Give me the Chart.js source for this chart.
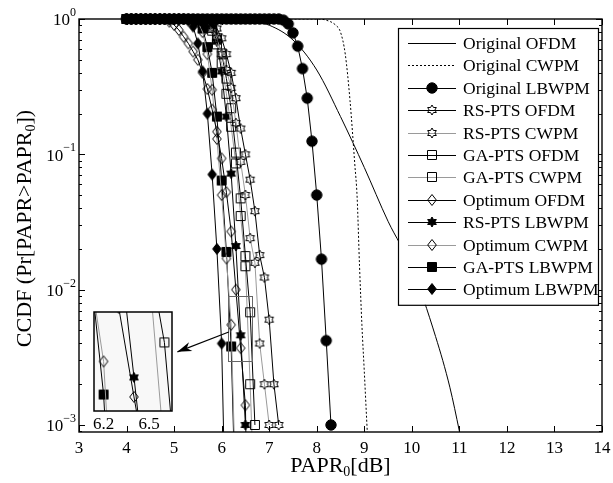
<!DOCTYPE html>
<html>
<head>
<meta charset="utf-8">
<script src="https://cdn.jsdelivr.net/npm/chart.js@4.4.1/dist/chart.umd.min.js"></script>
<style>
  html, body { margin: 0; padding: 0; background: #fff; }
  #wrap { position: relative; width: 613px; height: 483px; }
  #main { position: absolute; left: 0; top: 0; }
  #inset { position: absolute; left: 88px; top: 306px; }
</style>
</head>
<body>
<div id="wrap">
  <canvas id="main" width="613" height="483"></canvas>
  <canvas id="inset" width="96" height="132"></canvas>
</div>
<script>
// PAPR grid of the simulated curves (dB)
const paprGrid = [4.0, 4.1, 4.2, 4.3, 4.4, 4.5, 4.6, 4.7, 4.8, 4.9,
  5.0, 5.1, 5.2, 5.3, 5.4, 5.5, 5.6, 5.7, 5.8, 5.9,
  6.0, 6.1, 6.2, 6.3, 6.4, 6.5, 6.6, 6.7, 6.8, 6.9,
  7.0, 7.1, 7.2, 7.3, 7.4, 7.5, 7.6, 7.7, 7.8, 7.9,
  8.0, 8.1, 8.2, 8.3];

// unmarked reference curves have their own x
const origOfdmX = [4.0, 6.0, 6.5, 7.0, 7.5, 8.0, 8.5, 9.0, 9.5, 10.0, 10.5, 10.8, 11.0, 11.2];
const origOfdmY = [1, 1, 0.985, 0.9, 0.70, 0.42, 0.19, 0.08, 0.032, 0.0145, 0.0045, 0.0019, 0.0009, 0.0004];
const origCwpmX = [4.0, 8.0, 8.2, 8.4, 8.5, 8.6, 8.7, 8.8, 8.85, 8.9, 8.95, 9.0, 9.05, 9.1];
const origCwpmY = [1, 1, 0.98, 0.9, 0.8, 0.55, 0.25, 0.085, 0.048, 0.015, 0.0055, 0.0025, 0.0011, 0.0005];

// marked curves, values on paprGrid starting at 4.0 dB
const origLbwpm = [1, 1, 1, 1, 1, 1, 1, 1, 1, 1, 1, 1, 1, 1, 1, 1, 1, 1, 1, 1,
  1, 1, 1, 1, 1, 1, 1, 1, 1, 1, 1, 1, 1, 0.98, 0.92, 0.79, 0.63, 0.43, 0.26, 0.125,
  0.05, 0.0168, 0.0042, 0.001];
const rsOfdm = [1, 1, 1, 1, 1, 1, 1, 1, 1, 1, 1, 1, 1, 1, 1, 1,
  0.99, 0.97, 0.93, 0.85, 0.72, 0.55, 0.40, 0.26, 0.155, 0.10, 0.065, 0.038, 0.018, 0.0123,
  0.006, 0.002, 0.001];
const rsCwpm = [1, 1, 1, 1, 1, 1, 1, 1, 1, 1, 1, 1, 1, 1, 1,
  0.99, 0.97, 0.93, 0.85, 0.72, 0.55, 0.42, 0.31, 0.17, 0.088, 0.05, 0.024, 0.0158, 0.004, 0.002,
  0.001];
const gaOfdm = [1, 1, 1, 1, 1, 1, 1, 1, 1, 1, 1, 1, 1, 1, 1, 1,
  0.99, 0.95, 0.86, 0.72, 0.557, 0.363, 0.219, 0.103, 0.0473, 0.0177, 0.0068, 0.001];
const gaCwpm = [1, 1, 1, 1, 1, 1, 1, 1, 1, 1, 1, 1, 1, 1, 1, 1,
  0.98, 0.93, 0.82, 0.65, 0.47, 0.28, 0.16, 0.0857, 0.035, 0.0149, 0.002, 0.0002];
const optOfdm = [1, 1, 1, 1, 1, 1, 1, 1, 1,
  0.955, 0.904, 0.83, 0.74, 0.66, 0.575, 0.50, 0.40, 0.304, 0.214, 0.147,
  0.0933, 0.0525, 0.0269, 0.01, 0.0037, 0.0014, 0.00001];
const rsLbwpm = [1, 1, 1, 1, 1, 1, 1, 1, 1, 1, 1, 1, 1, 1, 1, 1, 1,
  0.97, 0.88, 0.68, 0.41, 0.19, 0.072, 0.021, 0.0046, 0.001];
const optCwpm = [1, 1, 1, 1, 1, 1, 1, 1, 1, 1, 1, 1, 1, 1,
  0.99, 0.95, 0.8, 0.55, 0.3, 0.13, 0.05, 0.017, 0.0055, 0.0003];
const gaLbwpm = [1, 1, 1, 1, 1, 1, 1, 1, 1, 1, 1, 1, 1, 1, 1,
  0.97, 0.85, 0.62, 0.40, 0.19, 0.064, 0.019, 0.0038, 0.0002];
const optLbwpm = [1, 1, 1, 1, 1, 1, 1, 1, 1, 1, 1, 1, 1,
  0.97, 0.88, 0.66, 0.41, 0.2, 0.071, 0.02, 0.004, 0.0001];

const xTicks = [3, 4, 5, 6, 7, 8, 9, 10, 11, 12, 13, 14];
const yDecades = [0, -1, -2, -3];
const insetTicks = [6.2, 6.5];
// zoom window marked in the plot, range of the inset, and the arrow between them
const zoomBoxX = [6.137, 6.65];
const zoomBoxY = [0.002985, 0.008974];
const insetX = [6.137, 6.65];
const insetY = [0.003162, 0.00955];
const arrowFrom = [6.15, 0.00486];
const arrowTo = [5.07, 0.00347];

const SERIF = '"Liberation Serif", "DejaVu Serif", serif';
const GRAY = '#9a9a9a';

function makeMarker(kind, filled) {
  const c = document.createElement('canvas');
  c.width = 14; c.height = 14;
  const g = c.getContext('2d');
  const m = 7;
  g.lineWidth = 1;
  g.strokeStyle = '#000';
  g.fillStyle = '#000';
  g.beginPath();
  if (kind === 'circle') {
    g.arc(m, m, 5.2, 0, Math.PI * 2);
  } else if (kind === 'square') {
    g.rect(m - 4.5, m - 4.5, 9, 9);
  } else if (kind === 'diamond') {
    g.moveTo(m, m - 5.5); g.lineTo(m + 4.3, m); g.lineTo(m, m + 5.5); g.lineTo(m - 4.3, m);
    g.closePath();
  } else if (kind === 'hexagram') {
    for (let i = 0; i < 12; i++) {
      const a = (-90 + i * 30) * Math.PI / 180;
      const r = i % 2 ? 2.9 : 5;
      const px = m + r * Math.cos(a), py = m + r * Math.sin(a);
      if (i === 0) g.moveTo(px, py); else g.lineTo(px, py);
    }
    g.closePath();
  }
  if (filled) g.fill();
  g.stroke();
  return c;
}

const mk = {
  circle: makeMarker('circle', true),
  star: makeMarker('hexagram', false),
  starF: makeMarker('hexagram', true),
  sq: makeMarker('square', false),
  sqF: makeMarker('square', true),
  dia: makeMarker('diamond', false),
  diaF: makeMarker('diamond', true)
};

function onGrid(ys) {
  return ys.map((y, i) => ({ x: paprGrid[i], y: y }));
}
function pairs(xs, ys) {
  return xs.map((x, i) => ({ x: x, y: ys[i] }));
}

function makeDatasets() {
  const clip = { left: false, top: false, right: false, bottom: 0 };
  const marked = (label, ys, color, marker) => ({
    label, data: onGrid(ys), borderColor: color, borderWidth: 1,
    pointStyle: marker, pointRadius: 5, tension: 0, clip
  });
  return [
    { label: 'Original OFDM', data: pairs(origOfdmX, origOfdmY), borderColor: '#000', borderWidth: 1,
      pointRadius: 0, cubicInterpolationMode: 'monotone', clip: 0 },
    { label: 'Original CWPM', data: pairs(origCwpmX, origCwpmY), borderColor: '#000', borderWidth: 1,
      borderDash: [2, 2], pointRadius: 0, cubicInterpolationMode: 'monotone', clip: 0 },
    marked('Original LBWPM', origLbwpm, '#000', mk.circle),
    marked('RS-PTS OFDM', rsOfdm, '#000', mk.star),
    marked('RS-PTS CWPM', rsCwpm, GRAY, mk.star),
    marked('GA-PTS OFDM', gaOfdm, '#000', mk.sq),
    marked('GA-PTS CWPM', gaCwpm, GRAY, mk.sq),
    marked('Optimum OFDM', optOfdm, '#000', mk.dia),
    marked('RS-PTS LBWPM', rsLbwpm, '#000', mk.starF),
    marked('Optimum CWPM', optCwpm, GRAY, mk.dia),
    marked('GA-PTS LBWPM', gaLbwpm, '#000', mk.sqF),
    marked('Optimum LBWPM', optLbwpm, '#000', mk.diaF)
  ];
}

// draw text pieces with sub/superscripts, anchored at (x, y)
function richText(ctx, pieces, x, y, align) {
  let w = 0;
  pieces.forEach(p => { ctx.font = p.size + 'px ' + SERIF; p.w = ctx.measureText(p.t).width; w += p.w; });
  let cx = align === 'center' ? x - w / 2 : align === 'right' ? x - w : x;
  ctx.textAlign = 'left';
  ctx.textBaseline = 'middle';
  pieces.forEach(p => {
    ctx.font = p.size + 'px ' + SERIF;
    ctx.fillText(p.t, cx, y + (p.dy || 0));
    cx += p.w;
  });
}

const axesPlugin = {
  id: 'matlabAxes',
  afterDatasetsDraw(chart) {
    const ctx = chart.ctx;
    const a = chart.chartArea;
    const xs = chart.scales.x, ys = chart.scales.y;
    ctx.save();
    ctx.strokeStyle = '#000';
    ctx.fillStyle = '#000';
    ctx.lineWidth = 1;

    // zoom window
    ctx.strokeStyle = '#666';
    const zx0 = xs.getPixelForValue(zoomBoxX[0]), zx1 = xs.getPixelForValue(zoomBoxX[1]);
    const zy0 = ys.getPixelForValue(zoomBoxY[1]), zy1 = ys.getPixelForValue(zoomBoxY[0]);
    ctx.strokeRect(Math.round(zx0) + 0.5, Math.round(zy0) + 0.5, Math.round(zx1 - zx0), Math.round(zy1 - zy0));

    // arrow
    ctx.strokeStyle = '#000';
    const ax0 = xs.getPixelForValue(arrowFrom[0]), ay0 = ys.getPixelForValue(arrowFrom[1]);
    const ax1 = xs.getPixelForValue(arrowTo[0]), ay1 = ys.getPixelForValue(arrowTo[1]);
    const ang = Math.atan2(ay1 - ay0, ax1 - ax0);
    ctx.lineWidth = 1.2;
    ctx.beginPath(); ctx.moveTo(ax0, ay0); ctx.lineTo(ax1, ay1); ctx.stroke();
    ctx.beginPath();
    ctx.moveTo(ax1, ay1);
    ctx.lineTo(ax1 - 15 * Math.cos(ang - 0.32), ay1 - 15 * Math.sin(ang - 0.32));
    ctx.lineTo(ax1 - 10 * Math.cos(ang), ay1 - 10 * Math.sin(ang));
    ctx.lineTo(ax1 - 15 * Math.cos(ang + 0.32), ay1 - 15 * Math.sin(ang + 0.32));
    ctx.closePath();
    ctx.fill();

    // frame
    ctx.lineWidth = 1.4;
    ctx.strokeRect(a.left, a.top, a.right - a.left, a.bottom - a.top);
    ctx.lineWidth = 1;
    ctx.beginPath();
    xTicks.forEach(v => {
      const px = Math.round(xs.getPixelForValue(v)) + 0.5;
      ctx.moveTo(px, a.bottom); ctx.lineTo(px, a.bottom - 6);
      ctx.moveTo(px, a.top); ctx.lineTo(px, a.top + 6);
    });
    yDecades.forEach(d => {
      for (let m = 1; m <= 9; m++) {
        const v = m * Math.pow(10, d - 1);
        if (v < ys.min || v > ys.max) continue;
        const py = Math.round(ys.getPixelForValue(v)) + 0.5;
        const len = m === 1 ? 6 : 3;
        ctx.moveTo(a.left, py); ctx.lineTo(a.left + len, py);
        ctx.moveTo(a.right, py); ctx.lineTo(a.right - len, py);
      }
      const py = Math.round(ys.getPixelForValue(Math.pow(10, d))) + 0.5;
      ctx.moveTo(a.left, py); ctx.lineTo(a.left + 6, py);
      ctx.moveTo(a.right, py); ctx.lineTo(a.right - 6, py);
    });
    ctx.stroke();

    // tick labels
    ctx.font = '17px ' + SERIF;
    ctx.textAlign = 'center';
    ctx.textBaseline = 'middle';
    xTicks.forEach(v => ctx.fillText(String(v), xs.getPixelForValue(v), a.bottom + 17));
    yDecades.forEach(d => {
      const py = ys.getPixelForValue(Math.pow(10, d));
      const ex = d === 0 ? '0' : '\u2212' + (-d);
      richText(ctx, [{ t: '10', size: 17, dy: 2 }, { t: ex, size: 12, dy: -6 }], a.left - 3, py, 'right');
    });

    // axis titles
    richText(ctx, [{ t: 'PAPR', size: 22 }, { t: '0', size: 14, dy: 6 }, { t: '[dB]', size: 22 }],
      (a.left + a.right) / 2, a.bottom + 34, 'center');
    ctx.save();
    ctx.translate(25, (a.top + a.bottom) / 2 + 3);
    ctx.rotate(-Math.PI / 2);
    richText(ctx, [{ t: 'CCDF (Pr[PAPR>PAPR', size: 22 }, { t: '0', size: 14, dy: 6 }, { t: '])', size: 22 }],
      0, 0, 'center');
    ctx.restore();

    // legend
    const lx = 398, ly = 28, lw = 200, row = 22.4;
    const n = chart.data.datasets.length;
    ctx.fillStyle = '#fff';
    ctx.fillRect(lx, ly, lw, n * row + 8);
    ctx.strokeStyle = '#000';
    ctx.lineWidth = 1.2;
    ctx.strokeRect(lx + 0.5, ly + 0.5, lw, n * row + 8);
    chart.data.datasets.forEach((ds, i) => {
      const y = Math.round(ly + 15 + i * row) + 0.5;
      ctx.strokeStyle = ds.borderColor;
      ctx.lineWidth = 1;
      ctx.setLineDash(ds.borderDash || []);
      ctx.beginPath(); ctx.moveTo(408, y); ctx.lineTo(456, y); ctx.stroke();
      ctx.setLineDash([]);
      if (ds.pointStyle) ctx.drawImage(ds.pointStyle, 432 - 7, y - 7.5);
      ctx.fillStyle = '#000';
      ctx.font = '17.5px ' + SERIF;
      ctx.textAlign = 'left';
      ctx.textBaseline = 'middle';
      ctx.fillText(ds.label, 463, y + 1);
    });
    ctx.restore();
  }
};

const baseOptions = {
  responsive: false,
  animation: false,
  devicePixelRatio: 1,
  events: [],
  plugins: { legend: { display: false }, tooltip: { enabled: false } }
};

new Chart(document.getElementById('main'), {
  type: 'line',
  data: { datasets: makeDatasets() },
  options: Object.assign({}, baseOptions, {
    layout: { padding: { left: 79, right: 11, top: 19, bottom: 51 } },
    scales: {
      x: { type: 'linear', min: 3, max: 14, display: false },
      y: { type: 'logarithmic', min: 0.000887, max: 1, display: false }
    }
  }),
  plugins: [axesPlugin]
});

// inset: same curves, zoomed window
const insetPlugin = {
  id: 'insetFrame',
  beforeDatasetsDraw(chart) {
    const a = chart.chartArea, ctx = chart.ctx;
    ctx.save();
    ctx.fillStyle = '#f8f8f8';
    ctx.fillRect(a.left, a.top, a.right - a.left, a.bottom - a.top);
    ctx.restore();
  },
  afterDatasetsDraw(chart) {
    const a = chart.chartArea, ctx = chart.ctx, xs = chart.scales.x;
    ctx.save();
    ctx.strokeStyle = '#000';
    ctx.lineWidth = 1.5;
    ctx.strokeRect(a.left, a.top, a.right - a.left, a.bottom - a.top);
    ctx.fillStyle = '#000';
    ctx.font = '17px ' + SERIF;
    ctx.textAlign = 'center';
    ctx.textBaseline = 'middle';
    insetTicks.forEach(v => ctx.fillText(String(v), xs.getPixelForValue(v), a.bottom + 14));
    ctx.restore();
  }
};

const insetSets = makeDatasets().map(ds => Object.assign(ds, { clip: 0 }));
new Chart(document.getElementById('inset'), {
  type: 'line',
  data: { datasets: insetSets },
  options: Object.assign({}, baseOptions, {
    layout: { padding: { left: 4, right: 12, top: 5, bottom: 27 } },
    scales: {
      x: { type: 'linear', min: insetX[0], max: insetX[1], display: false },
      y: { type: 'logarithmic', min: insetY[0], max: insetY[1], display: false }
    }
  }),
  plugins: [insetPlugin]
});
</script>
</body>
</html>
